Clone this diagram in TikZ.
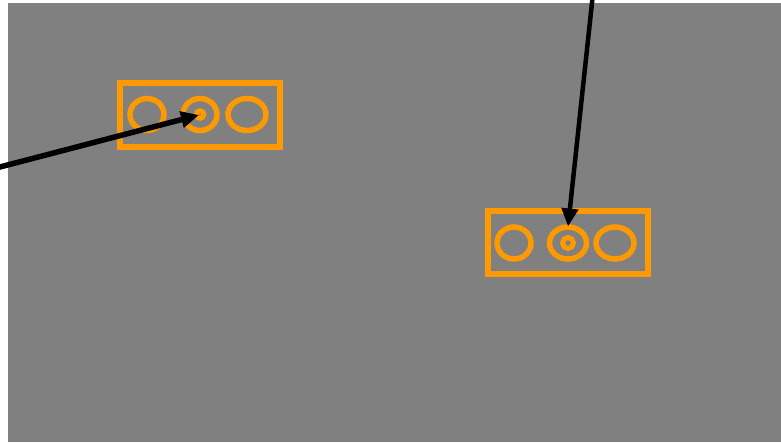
\documentclass[tikz,border=0pt]{standalone}
\usetikzlibrary{arrows.meta}
\definecolor{bggray}{HTML}{808080}
\definecolor{orng}{HTML}{FF9900}
\begin{document}
\begin{tikzpicture}[x=1pt,y=-1pt,
  panel/.style={draw=orng,line width=6pt},
  ring/.style={draw=orng,line width=5.5pt},
  dot/.style={draw=orng,line width=5pt},
  pointer/.style={draw=black,line width=5.5pt,-{Triangle[length=18pt,width=16pt]}}]
\useasboundingbox (0,0) rectangle (781,442);
\fill[white] (0,0) rectangle (781,442);
\fill[bggray] (8,3) rectangle (781,442);
% left panel
\draw[panel] (120,83) rectangle (280,147);
\draw[ring] (147,114.5) ellipse [x radius=17,y radius=16];
\draw[ring] (200,114.5) ellipse [x radius=17,y radius=16];
\draw[ring] (247,114.5) ellipse [x radius=19,y radius=16];
\draw[dot] (200,114.5) circle [radius=3.8];
% right panel
\draw[panel] (488,211) rectangle (648,274);
\draw[ring] (514,243) ellipse [x radius=17,y radius=16];
\draw[ring] (568,243) ellipse [x radius=18.5,y radius=16];
\draw[ring] (615,243) ellipse [x radius=19,y radius=16];
\draw[dot] (568,243) circle [radius=5.5];
% arrows
\coordinate (s1) at (-2,167.5);
\coordinate (t1) at (199,115);
\coordinate (s2) at (592.5,-2);
\coordinate (t2) at (568,226.5);
\draw[pointer] (s1) -- (t1);
\draw[pointer,line width=4.5pt] (s2) -- (t2);
\end{tikzpicture}
\end{document}
